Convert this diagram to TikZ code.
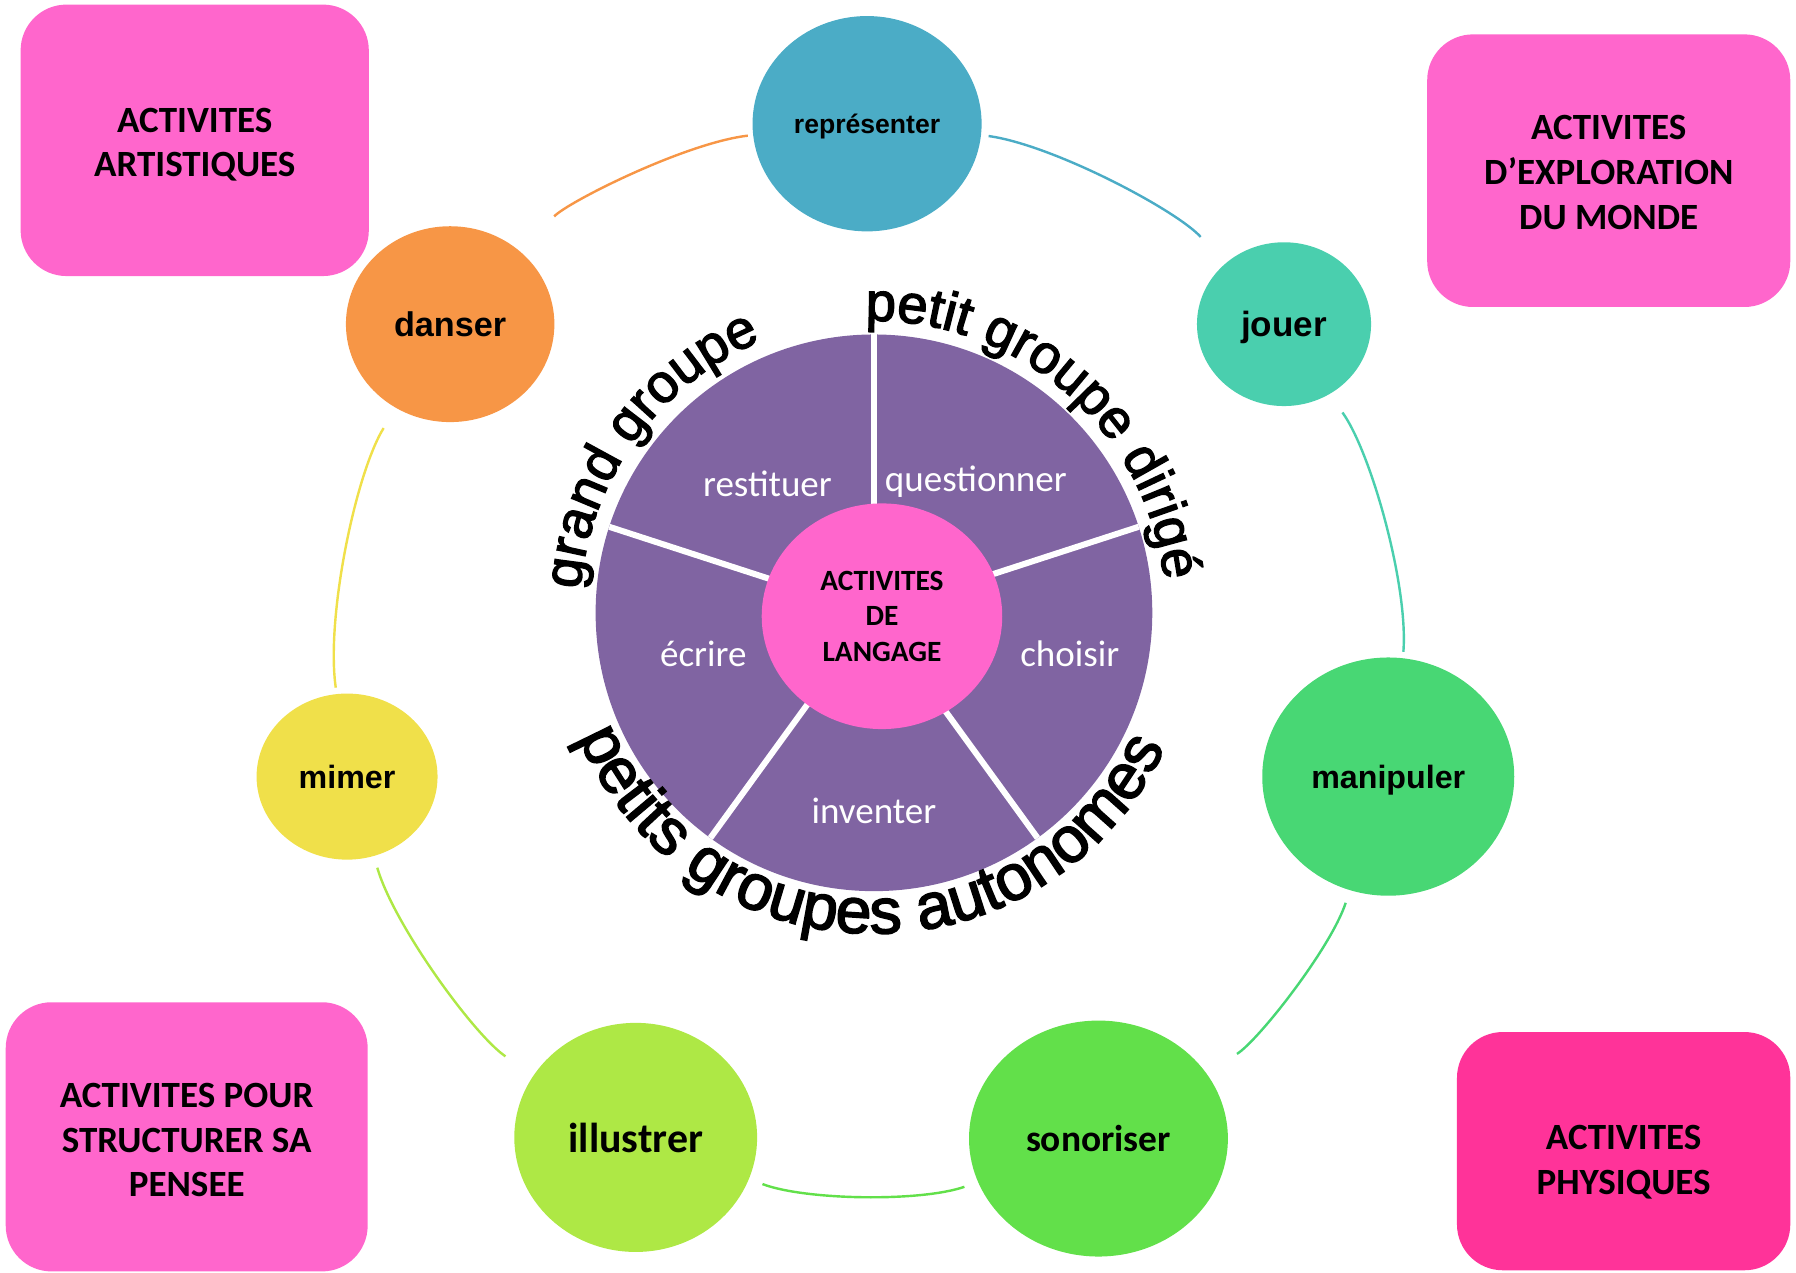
\documentclass[tikz,border=0pt]{standalone}
\usepackage{fontspec}
\setmainfont{Carlito}
\newfontfamily\arialfont{Liberation Sans}
\newfontfamily\arcfont[FakeBold=2.5]{Liberation Sans}
\usetikzlibrary{shapes.geometric,decorations.text}
\definecolor{BoxPink}{RGB}{255,102,204}
\definecolor{BoxRose}{RGB}{255,51,153}
\definecolor{PiePurple}{RGB}{128,100,162}
\definecolor{RepBlue}{RGB}{75,172,198}
\definecolor{JouTeal}{RGB}{74,207,174}
\definecolor{ManGreen}{RGB}{72,215,116}
\definecolor{SonGreen}{RGB}{98,224,74}
\definecolor{IllLime}{RGB}{174,232,69}
\definecolor{MimYellow}{RGB}{240,224,74}
\definecolor{DanOrange}{RGB}{247,150,70}

\begin{document}
\begin{tikzpicture}[
    activity/.style={rounded corners=0.4cm, fill=BoxPink, align=center, inner sep=0pt,
      font=\bfseries\fontsize{9.2}{11.1}\selectfont},
    verb/.style={ellipse, inner sep=0pt, text depth=0pt},
    arialb/.style={font=\arialfont\bfseries\fontsize{#1}{#1}\selectfont},
    calib/.style={font=\bfseries\fontsize{#1}{#1}\selectfont},
    ring/.style={line width=0.6pt},
    piece/.style={text=white, text depth=0pt, font=\fontsize{9.2}{11}\selectfont}
  ]
    \useasboundingbox (0,0) rectangle (15.68,-11.11);

    \node[activity, minimum width=3.04cm, minimum height=2.37cm] (artistiques) at (1.70,-1.225) {\rule{0pt}{8.2pt}ACTIVITES\\ARTISTIQUES};
    \node[activity, minimum width=3.17cm, minimum height=2.38cm] (monde) at (14.045,-1.49) {\rule{0pt}{7pt}ACTIVITES\\D’EXPLORATION\\DU MONDE};
    \node[activity, minimum width=3.16cm, minimum height=2.35cm] (pensee) at (1.63,-9.925) {\rule{0pt}{7.6pt}ACTIVITES POUR\\STRUCTURER SA\\PENSEE};
    \node[activity, fill=BoxRose, minimum width=2.91cm, minimum height=2.08cm] (physiques) at (14.175,-10.05) {\rule{0pt}{11.6pt}ACTIVITES\\PHYSIQUES};

    \node[verb, fill=RepBlue, minimum width=2.00cm, minimum height=1.88cm, arialb=6.6] (representer) at (7.57,-1.08) {représenter};
    \node[verb, fill=JouTeal, minimum width=1.52cm, minimum height=1.43cm, arialb=8.7] (jouer) at (11.21,-2.83) {jouer};
    \node[verb, fill=ManGreen, minimum width=2.20cm, minimum height=2.08cm, arialb=8] (manipuler) at (12.12,-6.78) {manipuler};
    \node[verb, fill=SonGreen, minimum width=2.26cm, minimum height=2.06cm, calib=9.3] (sonoriser) at (9.59,-9.94) {sonoriser};
    \node[verb, fill=IllLime, minimum width=2.12cm, minimum height=2.00cm, calib=10.4] (illustrer) at (5.55,-9.93) {illustrer};
    \node[verb, fill=MimYellow, minimum width=1.58cm, minimum height=1.45cm, arialb=8] (mimer) at (3.03,-6.78) {mimer};
    \node[verb, fill=DanOrange, minimum width=1.82cm, minimum height=1.71cm, arialb=8.5] (danser) at (3.93,-2.83) {danser};

    \foreach \from/\to/\col/\s/\e in {danser/representer/DanOrange/0.42/0.04,
        representer/jouer/RepBlue/0.06/0.31, jouer/manipuler/JouTeal/0.19/0.05,
        manipuler/sonoriser/ManGreen/0.11/0.31, sonoriser/illustrer/SonGreen/0.12/0.12,
        illustrer/mimer/IllLime/0.29/0.10, mimer/danser/MimYellow/0.05/0.20}
      \draw[ring, \col, shorten <=\s cm, shorten >=\e cm] (\from) to[bend left=20, looseness=0.67] (\to);

    \coordinate (wheel) at (7.63,-5.35);
    \fill[PiePurple] (wheel) circle[radius=2.43];
    \foreach \a in {90,18,-54,-126,162}
      \draw[white, line width=1.5pt] (wheel) -- ++(\a:2.43);
    \node[ellipse, fill=BoxPink, minimum width=2.10cm, minimum height=1.97cm, inner sep=0pt,
      align=center, font=\bfseries\fontsize{7.3}{8.8}\selectfont] (langage) at (7.70,-5.38) {ACTIVITES\\DE\\LANGAGE};

    \node[piece] (restituer) at (6.70,-4.22) {restituer};
    \node[piece] (questionner) at (8.52,-4.18) {questionner};
    \node[piece] (ecrire) at (6.14,-5.71) {écrire};
    \node[piece] (choisir) at (9.34,-5.71) {choisir};
    \node[piece] (inventer) at (7.63,-7.08) {inventer};

    \path[decorate, decoration={text along path, text align=center,
      text={|\arcfont\fontsize{13.5}{14}\selectfont|grand groupe}}]
      ([shift={(192:2.57)}]wheel) arc[start angle=192, end angle=96, radius=2.57];
    \path[decorate, decoration={text along path, text align=center,
      text={|\arcfont\fontsize{13.5}{14}\selectfont|petit groupe dirigé}}]
      ([shift={(99:2.55)}]wheel) arc[start angle=99, end angle=-1, radius=2.55];
    \path[decorate, decoration={text along path, text align=center,
      text={|\arcfont\fontsize{16}{16}\selectfont|petits groupes autonomes}}]
      ([shift={(180:2.80)}]wheel) arc[start angle=180, end angle=358, radius=2.80];
\end{tikzpicture}
\end{document}
